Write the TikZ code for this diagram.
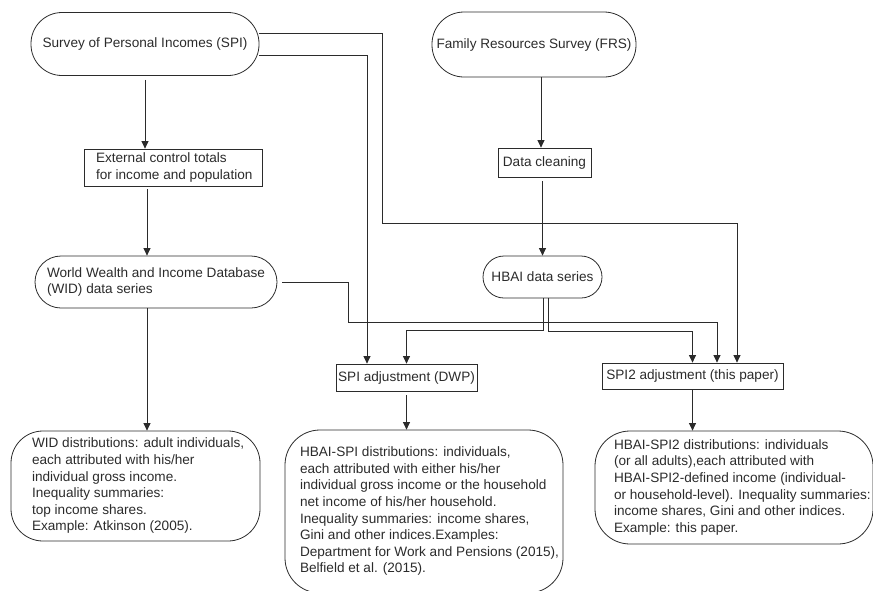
\documentclass[tikz,border=0pt]{standalone}
\usepackage{fontspec}
\setmainfont{Liberation Sans}
\usetikzlibrary{arrows.meta,calc}
\definecolor{ink}{HTML}{2B2B2B}
\newcommand\ltext[2]{\hbox to #1{\begin{tabular}{@{}l@{}}#2\end{tabular}\hss}}
\begin{document}
\begin{tikzpicture}[x=1pt,y=-1pt,
  base/.style={draw=ink, line width=0.8pt, text=ink, font=\fontsize{13.6}{16.6}\selectfont, inner sep=0pt},
  stadium/.style={base, rounded corners=#1},
  plainbox/.style={base},
  bigbox/.style={base, rounded corners=#1},
  arr/.style={draw=ink, line width=0.8pt, -{Triangle[width=7pt,length=7.5pt]}},
  wire/.style={draw=ink, line width=0.8pt}
]
\useasboundingbox (0,0) rectangle (873,590);

% nodes
\node[stadium=31pt, minimum width=228pt, minimum height=63pt] (spi) at (145,44) {Survey of Personal Incomes (SPI)};
\node[stadium=32pt, minimum width=204pt, minimum height=65pt] (frs) at (534,44.5) {Family Resources Survey (FRS)};
\node[plainbox, minimum width=178pt, minimum height=37pt, inner xsep=12pt] (ext) at (173,167.5)
  {\ltext{154pt}{External control totals\\for income and population}};
\node[plainbox, minimum width=93pt, minimum height=29pt] (dc) at (544.5,162.5) {Data cleaning};
\node[stadium=26pt, minimum width=242pt, minimum height=52pt, inner xsep=12pt] (wid) at (156,282)
  {\ltext{218pt}{World Wealth and Income Database\\(WID) data series}};
\node[stadium=21pt, minimum width=119pt, minimum height=42pt] (hbai) at (542.5,277) {HBAI data series};
\node[plainbox, minimum width=141pt, minimum height=27pt] (spiadj) at (406.5,377.5) {SPI adjustment (DWP)};
\node[plainbox, minimum width=181pt, minimum height=26pt] (spi2adj) at (692.5,376) {SPI2 adjustment (this paper)};
\node[bigbox=32pt, minimum width=249pt, minimum height=110pt, inner xsep=21pt] (widdist) at (135.5,486)
  {\ltext{207pt}{WID distributions: adult individuals,\\each attributed with his/her\\individual gross income.\\Inequality summaries:\\top income shares.\\Example: Atkinson (2005).}};
\node[bigbox=35pt, minimum width=278pt, minimum height=163pt, inner xsep=15pt] (hbaispi) at (424,511.5)
  {\ltext{248pt}{HBAI-SPI distributions: individuals,\\each attributed with either his/her\\individual gross income or the household\\net income of his/her household.\\Inequality summaries: income shares,\\Gini and other indices.Examples:\\Department for Work and Pensions (2015),\\Belfield et al. (2015).}};
\node[bigbox=35pt, minimum width=278pt, minimum height=113pt, inner xsep=19pt] (hbaispi2) at (734,487.5)
  {\ltext{240pt}{HBAI-SPI2 distributions: individuals\\(or all adults),each attributed with\\HBAI-SPI2-defined income (individual-\\or household-level). Inequality summaries:\\income shares, Gini and other indices.\\Example: this paper.}};

% helper coordinates
\coordinate (c1) at (147,0);
\coordinate (c2) at (541,0);
\coordinate (c3) at (367,0);
\coordinate (c4) at (382,223);
\coordinate (c5) at (348,322);
\coordinate (c6) at (543,330);
\coordinate (c7) at (548,331);

% connectors
\draw[arr, shorten <=4pt] (spi.south) -- (spi.south |- ext.north);
\draw[arr, shorten <=3pt] (ext.south -| c1) -- (wid.north -| c1);
\draw[arr] (wid.south -| c1) -- (widdist.north -| c1);
\draw[arr] (frs.south -| c2) -- (dc.north -| c2);
\draw[arr, shorten <=4pt] (dc.south -| hbai.north) -- (hbai.north);
\draw[arr] ([yshift=-11pt]spi.east) -| (spiadj.north -| c3);
\draw[arr] ([yshift=11pt]spi.east) -| (c4) -| ([xshift=44.5pt]spi2adj.north);
\draw[arr] ([xshift=5pt]wid.east) -| (c5) -| ([xshift=24.5pt]spi2adj.north);
\draw[arr] (hbai.south -| c6) -- (c6) -| (spiadj.north);
\draw[arr] (hbai.south -| c7) -- (c7) -| (spi2adj.north);
\draw[arr, shorten <=4pt] (spiadj.south) -- (spiadj.south |- hbaispi.north);
\draw[arr] (spi2adj.south) -- (spi2adj.south |- hbaispi2.north);
\end{tikzpicture}
\end{document}
